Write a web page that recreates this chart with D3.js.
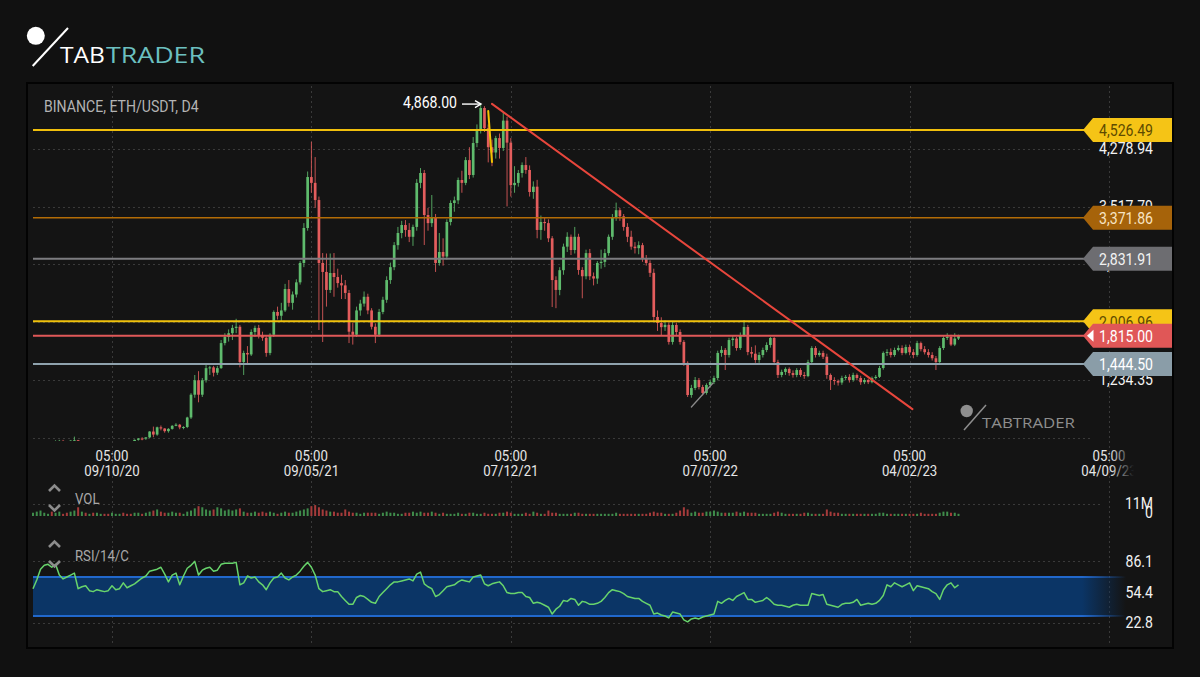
<!DOCTYPE html>
<html>
<head>
<meta charset="utf-8">
<script src="https://cdnjs.cloudflare.com/ajax/libs/d3/7.8.5/d3.min.js"></script>
<style>
  html, body { margin: 0; padding: 0; background: #111111; }
  svg { display: block; }
</style>
</head>
<body>
<svg id="chart" width="1200" height="677"></svg>
<script>
// ---- data ----
// D4 candles, first one opens 2020-07-17 05:00 UTC, one every 4 days
const firstCandle = new Date(Date.UTC(2020, 6, 17, 5));

// [open, high, low, close]
const ohlc = [
  [233,245,230,245],[245,280,243,278],[278,330,275,318],[318,415,310,390],[390,400,340,395],
  [395,400,370,380],[380,440,375,428],[428,445,420,432],[432,445,380,392],[392,400,375,390],
  [390,440,380,435],[435,488,410,440],[440,445,308,337],[337,375,330,368],[368,390,355,365],
  [365,390,355,385],[385,395,335,348],[348,360,315,355],[355,365,340,359],[359,360,335,352],
  [352,365,340,350],[350,380,345,375],[375,385,365,378],[378,415,370,410],[410,420,390,408],
  [408,415,370,385],[385,395,375,384],[384,450,375,446],[446,470,435,463],[463,480,440,462],
  [462,480,445,478],[478,560,470,555],[555,620,480,515],[515,620,500,611],[611,635,570,595],
  [595,600,540,560],[560,600,540,590],[590,640,580,630],[630,665,625,645],[645,655,585,610],
  [610,625,585,615],[615,750,600,740],[740,1060,720,1040],[1040,1300,1000,1230],[1230,1350,940,1040],
  [1040,1260,1010,1230],[1230,1440,1200,1390],[1390,1420,1300,1400],[1400,1420,1280,1330],[1330,1420,1300,1390],
  [1390,1760,1380,1720],[1720,1850,1690,1800],[1800,1900,1740,1850],[1850,1960,1760,1920],[1920,2040,1850,1935],
  [1935,1960,1400,1470],[1470,1620,1300,1590],[1590,1680,1450,1570],[1570,1900,1550,1866],[1866,1950,1800,1920],
  [1920,1960,1780,1826],[1826,1870,1750,1790],[1790,1810,1540,1590],[1590,1850,1560,1830],[1830,2150,1800,2130],
  [2130,2200,2030,2080],[2080,2250,2000,2150],[2150,2500,2130,2432],[2432,2550,2200,2250],[2250,2400,2160,2360],
  [2360,2560,2320,2520],[2520,2800,2490,2775],[2775,3300,2720,3236],[3236,3980,3200,3907],[3907,4372,3700,3830],
  [3830,4170,3500,3604],[3604,3650,1892,2775],[2775,2906,1734,2657],[2657,2900,2200,2420],[2420,2900,2380,2643],
  [2643,2906,2330,2590],[2590,2700,2450,2510],[2510,2620,2300,2480],[2480,2550,2300,2380],[2380,2420,1720,1870],
  [1870,1990,1700,1830],[1830,2200,1800,2150],[2150,2290,2080,2240],[2240,2400,2200,2330],[2330,2370,2100,2150],
  [2150,2180,1900,1935],[1935,1980,1720,1830],[1830,2170,1800,2130],[2130,2330,2100,2290],[2290,2600,2250,2550],
  [2550,2780,2500,2720],[2720,3050,2680,3010],[3010,3250,2950,3170],[3170,3330,3100,3275],[3275,3340,3120,3210],
  [3210,3300,3050,3120],[3120,3280,3000,3250],[3250,3880,3200,3830],[3830,4025,3760,3960],[3960,4000,3012,3407],
  [3407,3500,3200,3300],[3300,3670,3250,3380],[3380,3420,2657,2775],[2775,3170,2740,2920],[2920,3100,2740,2860],
  [2860,3350,2820,3315],[3315,3600,3270,3565],[3565,3650,3450,3600],[3600,3900,3550,3868],[3868,3990,3700,3830],
  [3830,4170,3800,4130],[4130,4300,3880,3934],[3934,4434,3900,4355],[4355,4600,4300,4526],[4526,4868,4480,4816],
  [4816,4840,4500,4550],[4550,4600,4100,4300],[4300,4400,4050,4230],[4230,4450,4150,4420],[4420,4480,4150,4290],
  [4290,4750,4250,4650],[4650,4700,3520,4360],[4360,4420,3650,3800],[3800,4050,3700,3830],[3830,4000,3780,3960],
  [3960,4100,3900,4065],[4065,4170,3950,4000],[4000,4060,3650,3710],[3710,3850,3620,3780],[3780,3870,3100,3210],
  [3210,3400,3080,3315],[3315,3380,3200,3300],[3300,3350,3050,3100],[3100,3130,2195,2550],[2550,2600,2180,2420],
  [2420,2720,2350,2680],[2680,3030,2620,2990],[2990,3180,2920,3120],[3120,3150,2880,2946],[2946,3250,2900,3120],
  [3120,3160,2620,2683],[2683,2720,2310,2600],[2600,2950,2560,2905],[2905,2960,2550,2600],[2600,2650,2480,2570],
  [2570,2800,2500,2775],[2775,2950,2700,2790],[2790,2960,2720,2905],[2905,3150,2870,3120],[3120,3420,3080,3380],
  [3380,3570,3330,3470],[3470,3500,3330,3390],[3390,3420,3200,3250],[3250,3300,3050,3120],[3120,3200,2950,2990],
  [2990,3050,2900,2970],[2970,3060,2890,3010],[3010,3040,2790,2840],[2840,2880,2740,2775],[2775,2810,2590,2645],
  [2645,2700,2000,2064],[2064,2150,1880,1984],[1984,2060,1826,1930],[1930,2020,1880,1960],[1960,1990,1700,1735],
  [1735,2000,1700,1958],[1958,1990,1820,1866],[1866,1900,1700,1735],[1735,1760,1420,1460],[1460,1480,1010,1036],
  [1036,1170,1000,1128],[1128,1273,1100,1234],[1234,1260,1110,1141],[1141,1170,1030,1063],[1063,1190,1040,1168],
  [1168,1240,1140,1207],[1207,1290,1180,1260],[1260,1620,1230,1590],[1590,1680,1540,1630],[1630,1655,1365,1563],
  [1563,1790,1530,1760],[1760,1820,1680,1780],[1780,1800,1620,1655],[1655,1860,1630,1826],[1826,2024,1800,1932],
  [1932,1960,1560,1602],[1602,1670,1530,1580],[1580,1690,1460,1497],[1497,1600,1460,1563],[1563,1660,1530,1629],
  [1629,1730,1600,1695],[1695,1800,1660,1787],[1787,1800,1430,1470],[1470,1500,1260,1300],[1300,1370,1270,1340],
  [1340,1400,1300,1380],[1380,1400,1290,1325],[1325,1360,1265,1300],[1300,1390,1270,1365],[1365,1390,1275,1300],
  [1300,1340,1250,1285],[1285,1500,1270,1470],[1470,1680,1450,1655],[1655,1680,1530,1563],[1563,1620,1540,1590],
  [1590,1620,1510,1540],[1540,1580,1250,1300],[1300,1320,1102,1234],[1234,1270,1170,1220],[1220,1240,1160,1200],
  [1200,1290,1170,1260],[1260,1300,1230,1275],[1275,1310,1200,1234],[1234,1330,1210,1300],[1300,1320,1230,1260],
  [1260,1290,1170,1205],[1205,1260,1180,1234],[1234,1250,1180,1205],[1205,1280,1190,1260],[1260,1300,1240,1275],
  [1275,1420,1260,1392],[1392,1610,1370,1590],[1590,1640,1550,1602],[1602,1650,1530,1563],[1563,1660,1540,1629],
  [1629,1690,1610,1655],[1655,1690,1560,1590],[1590,1700,1570,1668],[1668,1700,1560,1600],[1600,1640,1520,1563],
  [1563,1750,1540,1720],[1720,1740,1610,1640],[1640,1680,1570,1600],[1600,1640,1530,1563],[1563,1600,1490,1520],
  [1520,1550,1365,1470],[1470,1680,1440,1655],[1655,1810,1630,1787],[1787,1850,1760,1800],[1800,1830,1680,1700],
  [1700,1850,1680,1780],[1780,1830,1760,1815]
];

// volume per candle, millions
const volume = [
  3,4,5,3,2,4,3,4,2,3,4,5,8,
  4,3,2,3,3,2,2,2,
  3,2,2,3,2,2,3,3,2,3,
  4,5,6,4,3,3,4,3,3,2,
  4,5,7,9,8,6,
  5,6,8,7,5,6,5,6,
  7,4,3,3,4,3,
  4,3,4,3,2,3,4,3,3,4,5,6,
  7,9,10,8,6,5,
  4,4,3,3,6,4,3,3,2,3,3,3,
  3,2,3,4,3,3,2,2,3,3,4,3,4,3,3,
  4,3,2,3,2,2,2,3,2,2,3,3,2,2,3,2,2,2,3,3,4,3,2,2,2,
  3,2,4,3,2,2,5,3,3,2,2,2,2,3,3,2,2,2,2,2,
  2,2,2,2,3,2,2,2,2,2,2,2,2,3,4,3,3,2,2,2,
  3,5,8,6,3,4,3,3,4,4,5,4,3,3,3,3,4,3,4,3,
  3,3,2,2,2,2,3,4,3,2,2,2,2,2,3,3,2,2,2,2,
  6,4,3,3,2,2,2,2,2,2,2,2,2,2,3,3,2,2,2,2,
  2,2,2,2,2,3,2,2,2,2,3,4,4,3,3,2
];

// RSI 14 per candle
const rsi = [
  58,67,78,82,83,80,83,72,68,70,
  72,74,58,60,61,56,55,57,56,55,
  56,61,57,58,64,59,61,63,66,69,
  71,76,77,78,80,73,65,72,74,62,
  71,79,82,86,72,77,79,80,76,77,
  83,84,84,84,85,62,64,71,69,70,
  65,62,57,64,69,70,74,69,67,70,
  72,76,81,85,80,72,58,55,56,57,
  55,55,50,46,42,42,49,51,50,47,
  44,43,50,54,58,62,65,65,66,67,
  68,66,73,75,63,60,58,50,52,56,
  60,61,62,65,67,66,65,70,71,72,
  63,61,63,64,65,61,54,53,53,54,
  54,50,49,43,44,43,41,39,32,37,
  40,46,45,48,47,41,45,44,42,42,
  43,45,49,54,57,56,55,53,50,49,
  48,48,45,43,41,32,33,31,30,28,
  34,33,32,26,24,27,28,27,29,30,
  31,32,45,43,46,48,46,50,52,54,
  47,47,44,45,46,49,46,42,41,41,
  40,39,41,42,41,41,41,53,52,51,
  52,42,41,40,39,42,43,43,44,47,
  41,42,43,42,43,46,51,62,60,64,
  62,60,62,64,56,61,60,59,58,55,
  53,47,57,62,64,59,62
];

const priceTicks = [4278.94, 3517.79, 2756.64, 1995.49, 1234.35, 473.20];
const priceTickLabels = ['4,278.94', '3,517.79', '2,756.64', '1,995.49', '1,234.35'];
const levelValues = [4526.49, 3371.86, 2831.91, 2006.96, 1815.00, 1444.50];
const tickDates = ['2020-10-09', '2021-05-09', '2021-12-07', '2022-07-07', '2023-02-04', '2023-09-04'];
const rsiTicks = [86.1, 54.4, 22.8];
const volTicks = [11, 0];
const volTickLabels = ['11M', '0'];
const peakValue = 4868.00;

// drawings on the chart: [date, price]
const trendLine = [['2021-11-17T05:00Z', 4870], ['2023-02-07T05:00Z', 850]];
const yellowStroke = [['2021-11-13T05:00Z', 4776], ['2021-11-17T05:00Z', 4105]];
const greyStroke = [['2022-06-17T05:00Z', 878], ['2022-07-10T05:00Z', 1194]];

// ---- styles ----
const levelStyle = [
  { line: '#f0bf0c', width: 2,   tag: '#f5c416', text: '#5e4b00' },
  { line: '#b36c06', width: 1.5, tag: '#a6630a', text: '#f8e4c4' },
  { line: '#7c7c80', width: 2,   tag: '#6d6d71', text: '#f2f2f2' },
  { line: '#f0c20c', width: 2,   tag: '#f5c416', text: '#5e4b00' },
  { line: '#e05858', width: 2,   tag: '#e05757', text: '#ffffff' },
  { line: '#8fa2ad', width: 2,   tag: '#8a9da8', text: '#ffffff' }
];
const upColor = '#5fbb6d', downColor = '#e35d5d';
const upVol = '#3f8c4b', downVol = '#a53b3b';
const gridColor = '#3a3a3a';
const panelColor = '#141414';

const svg = d3.select('#chart');
svg.append('rect').attr('width', 1200).attr('height', 677).attr('fill', '#111111');

// chart panel
svg.append('rect')
  .attr('x', 27).attr('y', 83).attr('width', 1146).attr('height', 565)
  .attr('fill', panelColor).attr('stroke', '#030303').attr('stroke-width', 2);

const defs = svg.append('defs');
defs.append('clipPath').attr('id', 'priceClip')
  .append('rect').attr('x', 33).attr('y', 85).attr('width', 1052).attr('height', 356);

function fadeGradient(id, color, x1, x2) {
  const g = defs.append('linearGradient').attr('id', id)
    .attr('gradientUnits', 'userSpaceOnUse')
    .attr('x1', x1).attr('x2', x2).attr('y1', 0).attr('y2', 0);
  g.append('stop').attr('offset', 0).attr('stop-color', color).attr('stop-opacity', 1);
  g.append('stop').attr('offset', 1).attr('stop-color', color).attr('stop-opacity', 0);
}
fadeGradient('bandFill', '#0b3566', 1082, 1126);
fadeGradient('bandLine', '#2168cc', 1082, 1126);
const edgeFade = defs.append('linearGradient').attr('id', 'edgeFade')
  .attr('gradientUnits', 'userSpaceOnUse').attr('x1', 1110).attr('x2', 1134).attr('y1', 0).attr('y2', 0);
edgeFade.append('stop').attr('offset', 0).attr('stop-color', panelColor).attr('stop-opacity', 0);
edgeFade.append('stop').attr('offset', 1).attr('stop-color', panelColor).attr('stop-opacity', 1);

// ---- scales ----
const x = d3.scaleUtc()
  .domain([new Date('2020-10-09T05:00Z'), new Date('2023-09-04T05:00Z')])
  .range([112, 1109]);
const y = d3.scaleLinear().domain([1444.5, 4526.49]).range([364, 130]);
const yVol = d3.scaleLinear().domain([0, 11]).range([516, 504]);
const yRsi = d3.scaleLinear().domain([30, 70]).range([616, 577]);

const candleDate = i => d3.utcDay.offset(firstCandle, 4 * i);
const cx = i => x(candleDate(i));

// condensed-looking text (Roboto squeezed horizontally)
function ctext(g, px, py, str, o) {
  o = o || {};
  return g.append('text')
    .attr('transform', `translate(${px},${py}) scale(0.88,1)`)
    .attr('font-family', 'Roboto, "Noto Sans", sans-serif')
    .attr('font-size', o.size || 16)
    .attr('fill', o.fill || '#eeeeee')
    .attr('text-anchor', o.anchor || 'start')
    .attr('dominant-baseline', 'central')
    .text(str);
}

// ---- grid ----
const grid = svg.append('g').attr('stroke', gridColor).attr('stroke-width', 1).attr('stroke-dasharray', '2,3');
tickDates.forEach(d => {
  const px = Math.round(x(new Date(d + 'T05:00Z'))) + 0.5;
  grid.append('line').attr('x1', px).attr('x2', px).attr('y1', 86).attr('y2', 646);
});
priceTicks.forEach(p => {
  const py = Math.round(y(p)) + 0.5;
  grid.append('line').attr('x1', 33).attr('x2', 1092).attr('y1', py).attr('y2', py);
});
grid.append('line').attr('x1', 33).attr('x2', 1100)
  .attr('y1', Math.round(yVol(volTicks[0])) + 0.5).attr('y2', Math.round(yVol(volTicks[0])) + 0.5);
[rsiTicks[0], rsiTicks[2]].forEach(r => {
  const py = Math.round(yRsi(r)) + 0.5;
  grid.append('line').attr('x1', 33).attr('x2', 1100).attr('y1', py).attr('y2', py);
});

// ---- candles ----
const cg = svg.append('g').attr('clip-path', 'url(#priceClip)');
const bw = 2.7;
ohlc.forEach((d, i) => {
  const [o, h, l, c] = d;
  const col = c >= o ? upColor : downColor;
  const px = cx(i);
  cg.append('line')
    .attr('x1', px).attr('x2', px).attr('y1', y(h)).attr('y2', y(l))
    .attr('stroke', col).attr('stroke-width', 1).attr('opacity', 0.85);
  const top = y(Math.max(o, c)), bot = y(Math.min(o, c));
  cg.append('rect')
    .attr('x', px - bw / 2).attr('y', top)
    .attr('width', bw).attr('height', Math.max(1, bot - top))
    .attr('fill', col);
});

// ---- level lines ----
levelValues.forEach((v, k) => {
  const st = levelStyle[k];
  svg.append('line')
    .attr('x1', 33).attr('x2', 1084).attr('y1', y(v)).attr('y2', y(v))
    .attr('stroke', st.line).attr('stroke-width', st.width);
});

// drawings
const pt = p => [x(new Date(p[0])), y(p[1])];
function seg(points, color, w) {
  const a = pt(points[0]), b = pt(points[1]);
  svg.append('line').attr('x1', a[0]).attr('y1', a[1]).attr('x2', b[0]).attr('y2', b[1])
    .attr('stroke', color).attr('stroke-width', w).attr('stroke-linecap', 'round');
}
seg(trendLine, '#e8463c', 2);
seg(yellowStroke, '#f5c400', 2);
seg(greyStroke, '#8a8a8a', 1.3);

// peak annotation
const peakY = y(peakValue);
ctext(svg, 457, peakY - 1, '4,868.00', { anchor: 'end', fill: '#ffffff' });
svg.append('line').attr('x1', 462).attr('x2', 480).attr('y1', peakY).attr('y2', peakY)
  .attr('stroke', '#ffffff').attr('stroke-width', 1.4);
svg.append('path').attr('d', `M475,${peakY - 3.5} L481,${peakY} L475,${peakY + 3.5}`)
  .attr('fill', 'none').attr('stroke', '#ffffff').attr('stroke-width', 1.4);

// ---- price axis labels and tags (tags sit on top of the grid labels) ----
priceTickLabels.forEach((lab, k) => {
  ctext(svg, 1153, y(priceTicks[k]), lab, { anchor: 'end', fill: '#f2f2f2' });
});
levelValues.forEach((v, k) => {
  const st = levelStyle[k];
  const yc = y(v);
  svg.append('path')
    .attr('d', `M1083,${yc} L1093,${yc - 12} L1172,${yc - 12} L1172,${yc + 12} L1093,${yc + 12} Z`)
    .attr('fill', st.tag);
  if (k === 4) {
    svg.append('path').attr('d', `M1087,${yc} L1093.5,${yc - 6} L1093.5,${yc + 6} Z`).attr('fill', '#ffffff');
  }
  ctext(svg, 1153, yc + 1, d3.format(',.2f')(v), { anchor: 'end', fill: st.text });
});

// ---- time axis ----
const fmt = d3.utcFormat('%d/%m/%y');
tickDates.forEach(d => {
  const dt = new Date(d + 'T05:00Z');
  const px = x(dt);
  ctext(svg, px, 456, d3.utcFormat('%H:%M')(dt), { anchor: 'middle', size: 15, fill: '#e6e6e6' });
  ctext(svg, px, 470.5, fmt(dt), { anchor: 'middle', size: 15, fill: '#e6e6e6' });
});
svg.append('rect').attr('x', 1110).attr('y', 446).attr('width', 40).attr('height', 34).attr('fill', 'url(#edgeFade)');

// ---- volume pane ----
const vg = svg.append('g');
volume.forEach((v, i) => {
  const [o, , , c] = ohlc[i];
  vg.append('rect')
    .attr('x', cx(i) - 1).attr('y', yVol(v))
    .attr('width', 2).attr('height', yVol(0) - yVol(v))
    .attr('fill', c >= o ? upVol : downVol);
});
volTickLabels.forEach((lab, k) => {
  ctext(svg, 1153, yVol(volTicks[k]) + (k === 0 ? 0 : -3), lab, { anchor: 'end', fill: '#f2f2f2' });
});

// ---- RSI pane ----
svg.append('rect').attr('x', 33).attr('y', yRsi(70)).attr('width', 1095)
  .attr('height', yRsi(30) - yRsi(70)).attr('fill', 'url(#bandFill)');
[70, 30].forEach(r => {
  svg.append('rect').attr('x', 33).attr('y', yRsi(r) - 1).attr('width', 1095).attr('height', 2)
    .attr('fill', 'url(#bandLine)');
});
const rsiLine = d3.line().x((d, i) => cx(i)).y(d => yRsi(d));
svg.append('path').datum(rsi).attr('d', rsiLine)
  .attr('fill', 'none').attr('stroke', '#68d46c').attr('stroke-width', 1.5).attr('stroke-linejoin', 'round');
rsiTicks.forEach(r => {
  ctext(svg, 1153, yRsi(r), r.toFixed(1), { anchor: 'end', fill: '#f2f2f2' });
});

// pane titles with chevrons
function chevrons(cy1, cy2) {
  svg.append('path').attr('d', `M49,${cy1 + 3} L54.5,${cy1 - 2.5} L60,${cy1 + 3}`)
    .attr('fill', 'none').attr('stroke', '#8c8c8c').attr('stroke-width', 2.6);
  svg.append('path').attr('d', `M49,${cy2 - 3} L54.5,${cy2 + 2.5} L60,${cy2 - 3}`)
    .attr('fill', 'none').attr('stroke', '#8c8c8c').attr('stroke-width', 2.6);
}
chevrons(488, 508);
ctext(svg, 75, 499, 'VOL', { size: 15, fill: '#a8a8a8' });
chevrons(544, 564);
ctext(svg, 75, 556, 'RSI/14/C', { size: 15, fill: '#a8a8a8' });

// instrument title
ctext(svg, 44, 106.5, 'BINANCE, ETH/USDT, D4', { size: 16, fill: '#b3b3b3' });

// ---- logos ----
svg.append('circle').attr('cx', 35.8).attr('cy', 35.8).attr('r', 9).attr('fill', '#ffffff');
svg.append('line').attr('x1', 32.7).attr('y1', 66).attr('x2', 68).attr('y2', 28)
  .attr('stroke', '#ffffff').attr('stroke-width', 2);
svg.append('text').attr('x', 60).attr('y', 63).attr('font-family', '"Open Sans", sans-serif')
  .attr('font-size', 22).attr('fill', '#ffffff').attr('textLength', 45).attr('lengthAdjust', 'spacingAndGlyphs')
  .text('TAB');
svg.append('text').attr('x', 106).attr('y', 63).attr('font-family', '"Open Sans", sans-serif')
  .attr('font-size', 22).attr('fill', '#6cc0c0').attr('textLength', 99).attr('lengthAdjust', 'spacingAndGlyphs')
  .text('TRADER');

svg.append('circle').attr('cx', 966.7).attr('cy', 411).attr('r', 6.2).attr('fill', '#8e8e8e');
svg.append('line').attr('x1', 964).attr('y1', 430).attr('x2', 986).attr('y2', 405)
  .attr('stroke', '#8e8e8e').attr('stroke-width', 1.5);
svg.append('text').attr('x', 982).attr('y', 427.5).attr('font-family', '"Open Sans", sans-serif')
  .attr('font-size', 14).attr('fill', '#8e8e8e').attr('textLength', 93).attr('lengthAdjust', 'spacingAndGlyphs')
  .text('TABTRADER');
</script>
</body>
</html>
